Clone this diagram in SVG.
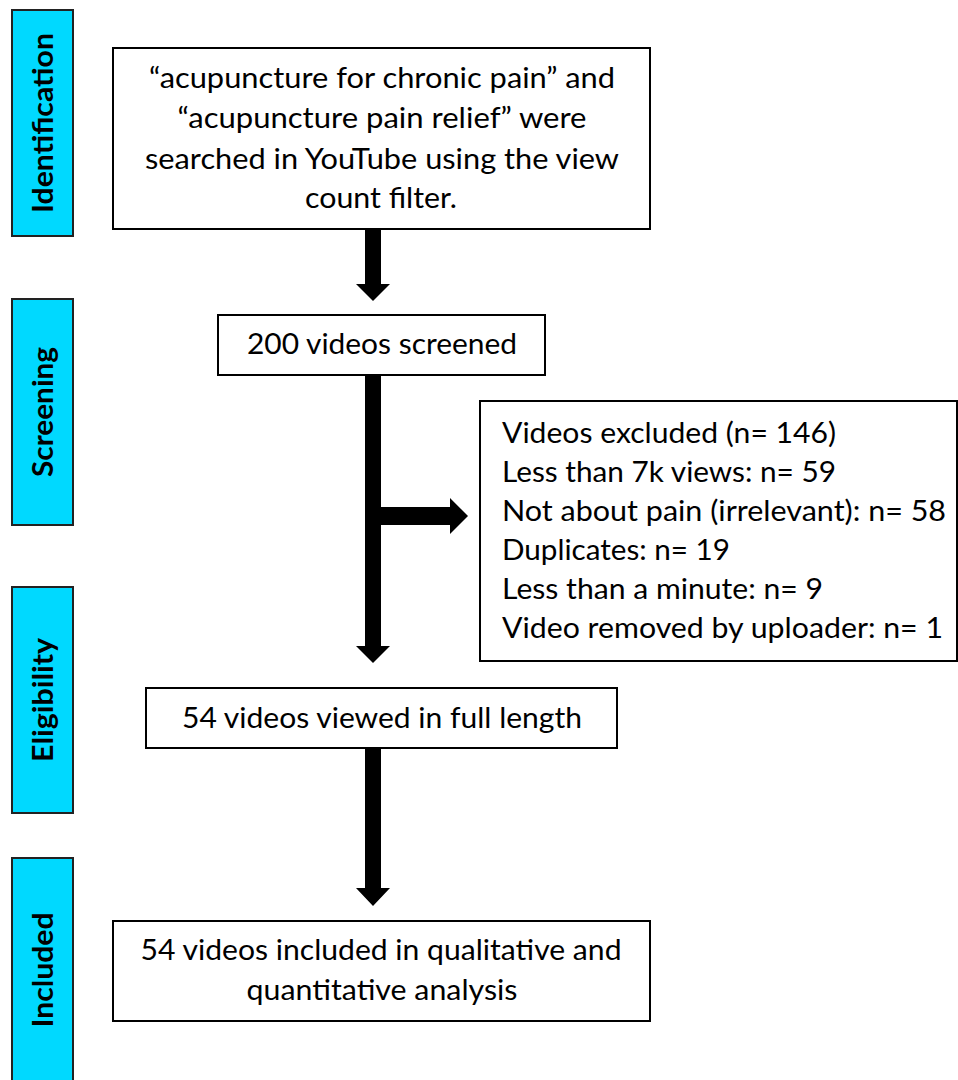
<svg xmlns="http://www.w3.org/2000/svg" width="958" height="1080" viewBox="0 0 958 1080">
<style>
.bar{fill:#00D9FF;stroke:#222;stroke-width:2}
.box{fill:#fff;stroke:#000;stroke-width:2}
.lbl{font-family:Lato,"Liberation Sans",sans-serif;font-weight:bold;font-size:28px;fill:#000;text-anchor:middle}
.t{font-family:Lato,"Open Sans","Liberation Sans",sans-serif;font-size:28px;fill:#000}
.c{text-anchor:middle}
.arr{fill:#000;stroke:none}
</style>
<rect width="958" height="1080" fill="#fff"/>
<g id="stage-identification">
<rect class="bar" x="12" y="10" width="61" height="226"/>
<text class="lbl" transform="translate(53,123) rotate(-90)" textLength="180" lengthAdjust="spacingAndGlyphs">Identification</text>
</g>
<g id="stage-screening">
<rect class="bar" x="12" y="299" width="61" height="226"/>
<text class="lbl" transform="translate(53,412) rotate(-90)" textLength="130" lengthAdjust="spacingAndGlyphs">Screening</text>
</g>
<g id="stage-eligibility">
<rect class="bar" x="12" y="587" width="61" height="226"/>
<text class="lbl" transform="translate(53,700) rotate(-90)" textLength="124" lengthAdjust="spacingAndGlyphs">Eligibility</text>
</g>
<g id="stage-included">
<rect class="bar" x="12" y="858" width="61" height="240"/>
<text class="lbl" transform="translate(53,970) rotate(-90)" textLength="115" lengthAdjust="spacingAndGlyphs">Included</text>
</g>
<g id="connectors">
<polygon class="arr" points="365,229 381,229 381,284 390,284 373,301 356,284 365,284"/>
<polygon class="arr" points="365,375 381,375 381,507 450,507 450,498 468,516 450,534 450,525 381,525 381,646 390,646 373,663 356,646 365,646"/>
<polygon class="arr" points="365,748 381,748 381,888 390,888 373,906 356,888 365,888"/>
</g>
<g id="node-search">
<rect class="box" x="113" y="48" width="537" height="181"/>
<text class="t c" x="382" y="88" textLength="466" lengthAdjust="spacingAndGlyphs">“acupuncture for chronic pain” and</text>
<text class="t c" x="382" y="128" textLength="409" lengthAdjust="spacingAndGlyphs">“acupuncture pain relief” were</text>
<text class="t c" x="382" y="169" textLength="474" lengthAdjust="spacingAndGlyphs">searched in YouTube using the view</text>
<text class="t c" x="381" y="208" textLength="152" lengthAdjust="spacingAndGlyphs">count filter.</text>
</g>
<g id="node-screened">
<rect class="box" x="218" y="315" width="327" height="60"/>
<text class="t c" x="382" y="354" textLength="270" lengthAdjust="spacingAndGlyphs">200 videos screened</text>
</g>
<g id="node-excluded">
<rect class="box" x="480" y="401" width="477" height="260"/>
<text class="t" x="502" y="443" textLength="334" lengthAdjust="spacingAndGlyphs">Videos excluded (n= 146)</text>
<text class="t" x="502" y="482" textLength="334" lengthAdjust="spacingAndGlyphs">Less than 7k views: n= 59</text>
<text class="t" x="502" y="521" textLength="444" lengthAdjust="spacingAndGlyphs">Not about pain (irrelevant): n= 58</text>
<text class="t" x="502" y="560" textLength="228" lengthAdjust="spacingAndGlyphs">Duplicates: n= 19</text>
<text class="t" x="502" y="599" textLength="321" lengthAdjust="spacingAndGlyphs">Less than a minute: n= 9</text>
<text class="t" x="502" y="638" textLength="441" lengthAdjust="spacingAndGlyphs">Video removed by uploader: n= 1</text>
</g>
<g id="node-viewed">
<rect class="box" x="146" y="688" width="471" height="60"/>
<text class="t c" x="382" y="728" textLength="400" lengthAdjust="spacingAndGlyphs">54 videos viewed in full length</text>
</g>
<g id="node-included">
<rect class="box" x="113" y="921" width="537" height="100"/>
<text class="t c" x="381" y="960" textLength="481" lengthAdjust="spacingAndGlyphs">54 videos included in qualitative and</text>
<text class="t c" x="382" y="1000" textLength="271" lengthAdjust="spacingAndGlyphs">quantitative analysis</text>
</g>
</svg>
